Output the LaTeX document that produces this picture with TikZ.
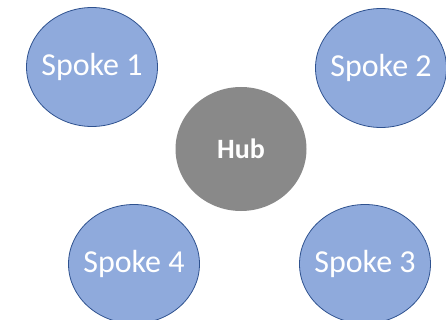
\documentclass[tikz,border=0pt]{standalone}
\usepackage{fontspec}
\setmainfont{Carlito}
\usetikzlibrary{shapes.geometric}
\definecolor{spokeblue}{HTML}{8FAADC}
\definecolor{spokeline}{HTML}{2F528F}
\definecolor{hubgray}{HTML}{898989}

\begin{document}
\begin{tikzpicture}[x=1pt, y=-1pt,
  spoke/.style={ellipse, draw=spokeline, line width=0.8pt, fill=spokeblue,
    text=white, inner xsep=-15pt, inner ysep=0pt,
    minimum width=131pt, minimum height=119pt,
    font=\fontsize{32}{38}\selectfont},
  hub/.style={ellipse, fill=hubgray, text=white, inner sep=0pt,
    minimum width=131pt, minimum height=124pt,
    font=\fontsize{28}{33}\selectfont\bfseries}]

  \useasboundingbox (0,0) rectangle (446,320);

  \node[hub] (hub) at (241,149) {Hub};

  \node[spoke] (spokeA) at ( 92, 67) {Spoke 1}; %% top left
  \node[spoke] (spokeB) at (381, 68) {Spoke 2}; %% top right
  \node[spoke] (spokeC) at (365,264) {Spoke 3}; %% bottom right
  \node[spoke] (spokeD) at (134,264) {Spoke 4}; %% bottom left

\end{tikzpicture}
\end{document}
